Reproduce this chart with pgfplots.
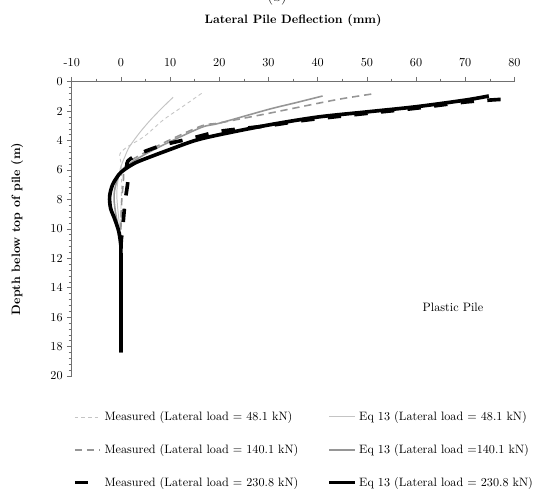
\documentclass[border=0pt]{standalone}
\usepackage{pgfplots}
\pgfplotsset{compat=1.18}
\definecolor{lgray}{HTML}{C4C4C4}
\definecolor{mgray}{HTML}{969696}
\definecolor{axgray}{HTML}{707070}
\begin{document}
\begin{tikzpicture}
\begin{axis}[
  scale only axis, width=364pt, height=242pt,
  xmin=-10, xmax=80, ymin=0, ymax=20, y dir=reverse,
  axis x line*=top, axis y line*=left,
  xtick={-10,0,...,80}, ytick={0,2,...,20},
  minor x tick num=1, minor y tick num=4,
  tick align=outside,
  /pgf/number format/assume math mode=true,
  xticklabel style={yshift=5pt},
  axis line style={axgray, line width=0.5pt, -}, tick style={axgray, line width=0.5pt},
  major tick length=4pt, minor tick length=2.5pt,
  title={\textbf{Lateral Pile Deflection (mm)}},
  title style={at={([yshift=42pt]axis description cs:0.5,1)}, anchor=base},
  ylabel={\textbf{Depth below top of pile (m)}},
  ylabel style={at={([xshift=-45pt]axis description cs:0,0.5)}, anchor=center, rotate=0},
  legend columns=2,
  legend style={draw=none, fill=none, at={(axis description cs:0.525,-0.103)}, anchor=north,
    /tikz/every even column/.append style={column sep=22pt}, row sep=14pt, font=\normalsize},
  legend cell align=left,
  legend image code/.code={\draw[#1] (0pt,0pt) -- (21pt,0pt);},
  every axis plot/.append style={smooth, tension=0.5},
  extra description/.code={
    \node[overlay, anchor=base, font=\large] at ([yshift=66pt]axis description cs:0.464,1) {(b)};
    \path ([xshift=-59pt,yshift=67.2pt]axis description cs:0,1);
    \path ([xshift=18.9pt,yshift=-90.2pt]axis description cs:1,0);
  },
]
% Measured 48.1
\addplot[lgray, line width=0.7pt, dash pattern=on 3pt off 2.5pt] table {
16.4 0.79
12.5 1.7
8.6 2.6
4.7 3.73
1.4 4.4
-0.2 4.9
0.0 5.5
0.1 6.5
0.1 7.5
0.0 9
0.0 12
0.0 15
0.0 18.3
};
\addlegendentry{Measured (Lateral load = 48.1 kN)}
% Eq 13 48.1
\addplot[lgray, line width=0.8pt] table {
10.6 1.06
8.3 1.8
6.0 2.6
4.2 3.3
2.7 3.95
1.5 4.55
0.8 5.1
0.0 5.76
-0.5 6.5
-0.8 7.3
-0.8 8.0
-0.6 8.8
-0.3 9.8
-0.1 11
0 12.5
0 18.3
};
\addlegendentry{Eq 13 (Lateral load = 48.1 kN)}
% Measured 140.1
\addplot[mgray, line width=1.3pt, dash pattern=on 6pt off 4pt] table {
50.9 0.84
45 1.15
40 1.47
30 2.15
20 2.8
16.4 3.0
9.2 4.07
4.0 4.97
1.4 5.5
0.6 6.0
0.5 6.8
0.3 7.5
0.1 8.5
0 10
0 13
0 18.3
};
\addlegendentry{Measured (Lateral load = 140.1 kN)}
% Eq 13 140.1
\addplot[mgray, line width=1.3pt] table {
41 0.97
35 1.47
30 1.88
20 2.82
16.4 3.1
9.2 4.2
4.7 4.97
1.4 5.65
0.0 6.1
-0.8 6.7
-1.3 7.4
-1.4 8.0
-1.1 8.9
-0.6 9.8
-0.2 10.8
0 12
0 18.3
};
\addlegendentry{Eq 13 (Lateral load =140.1 kN)}
% Measured 230.8
\addplot[black, line width=3pt, dash pattern=on 11pt off 11pt] table {
77.2 1.2
70 1.38
60 1.8
50 2.15
40.6 2.49
36.2 2.67
31 2.94
25.4 3.16
19.8 3.39
14.4 3.84
8.6 4.3
4 4.86
1.4 5.4
1.3 6.1
1.4 6.8
0.9 8.0
0.6 9.0
0.3 10.2
0 11.5
0 18.4
};
\addlegendentry{Measured (Lateral load = 230.8 kN)}
% Eq 13 230.8
\addplot[black, line width=3pt] table {
74.8 0.97
70 1.25
60 1.7
50 2.05
40 2.4
30 2.94
20 3.6
15 4.0
10 4.6
6.0 5.1
3.0 5.5
0.8 5.95
-0.4 6.3
-1.7 7.0
-2.3 7.8
-2.1 8.6
-1.3 9.3
-0.5 10.1
-0.1 10.9
0 11.8
0 18.4
};
\addlegendentry{Eq 13 (Lateral load = 230.8 kN)}
\node[anchor=center] at (axis cs:67.5,15.3) {Plastic Pile};
\end{axis}
\end{tikzpicture}
\end{document}
